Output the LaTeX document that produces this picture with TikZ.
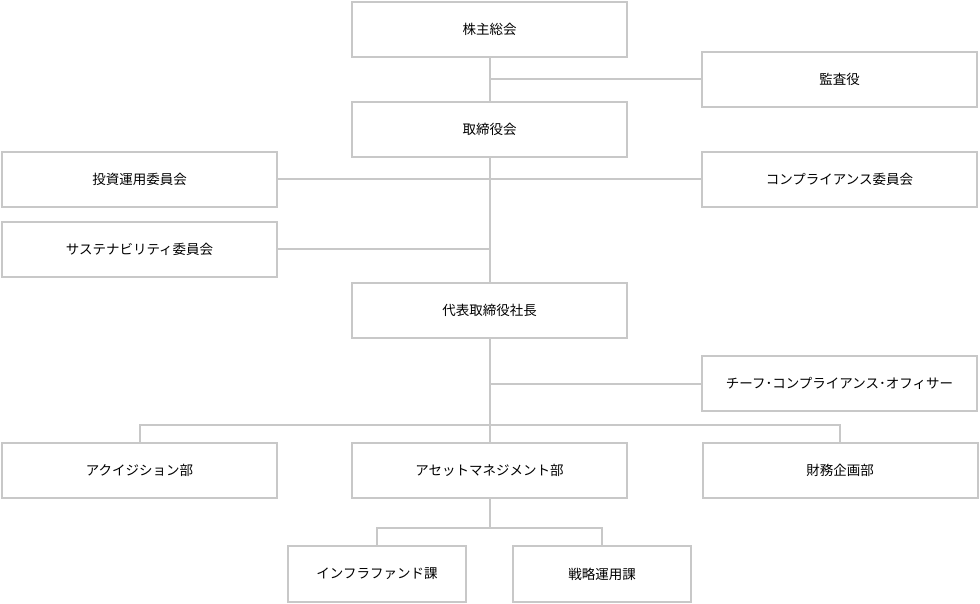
\documentclass[tikz,border=0pt]{standalone}
\usepackage{fontspec}
\setmainfont{Noto Sans CJK JP}
\definecolor{boxline}{RGB}{200,200,200}
\definecolor{txt}{RGB}{0,0,0}
\begin{document}
\begin{tikzpicture}[x=1pt,y=-1pt,
  orgbox/.style={draw=boxline,line width=2pt,fill=white,minimum width=275pt,minimum height=55pt,inner sep=0pt,text=txt,font=\fontsize{13.5pt}{16pt}\selectfont},
  subbox/.style={orgbox,minimum width=178pt,minimum height=56pt},
  link/.style={draw=boxline,line width=2pt}]
\useasboundingbox (0,0) rectangle (980,604);
\node[orgbox] (kabu) at (489.5,29.5) {株主総会};
\node[orgbox] (kansa) at (839.5,79.5) {監査役};
\node[orgbox] (tori) at (489.5,129.5) {取締役会};
\node[orgbox] (toshi) at (139.5,179.5) {投資運用委員会};
\node[orgbox] (comp) at (839.5,179.5) {コンプライアンス委員会};
\node[orgbox] (sus) at (139.5,249.5) {サステナビリティ委員会};
\node[orgbox] (pres) at (489.5,310.5) {代表取締役社長};
\node[orgbox] (cco) at (839.5,383.5) {チーフ･コンプライアンス･オフィサー};
\node[orgbox] (acq) at (139.5,470.5) {アクイジション部};
\node[orgbox] (am) at (489.5,470.5) {アセットマネジメント部};
\node[orgbox] (fin) at (840,470.5) {財務企画部};
\node[subbox] (infra) at (377,574) {インフラファンド課};
\node[subbox] (senr) at (602,574) {戦略運用課};
\coordinate (j1) at (489.5,425);
\coordinate (j2) at (489.5,528);
\draw[link] (kabu.south) -- (tori.north);
\draw[link] (kansa.west) -- (kansa.west -| kabu.south);
\draw[link] (tori.south) -- (pres.north);
\draw[link] (toshi.east) -- (comp.west);
\draw[link] (sus.east) -- (sus.east -| tori.south);
\draw[link] (pres.south) -- (am.north);
\draw[link] (cco.west) -- (cco.west -| pres.south);
\draw[link] (acq.north) |- (j1) -| (fin.north);
\draw[link] (am.south) -- (j2);
\draw[link] (infra.north) |- (j2) -| (senr.north);
\end{tikzpicture}
\end{document}
